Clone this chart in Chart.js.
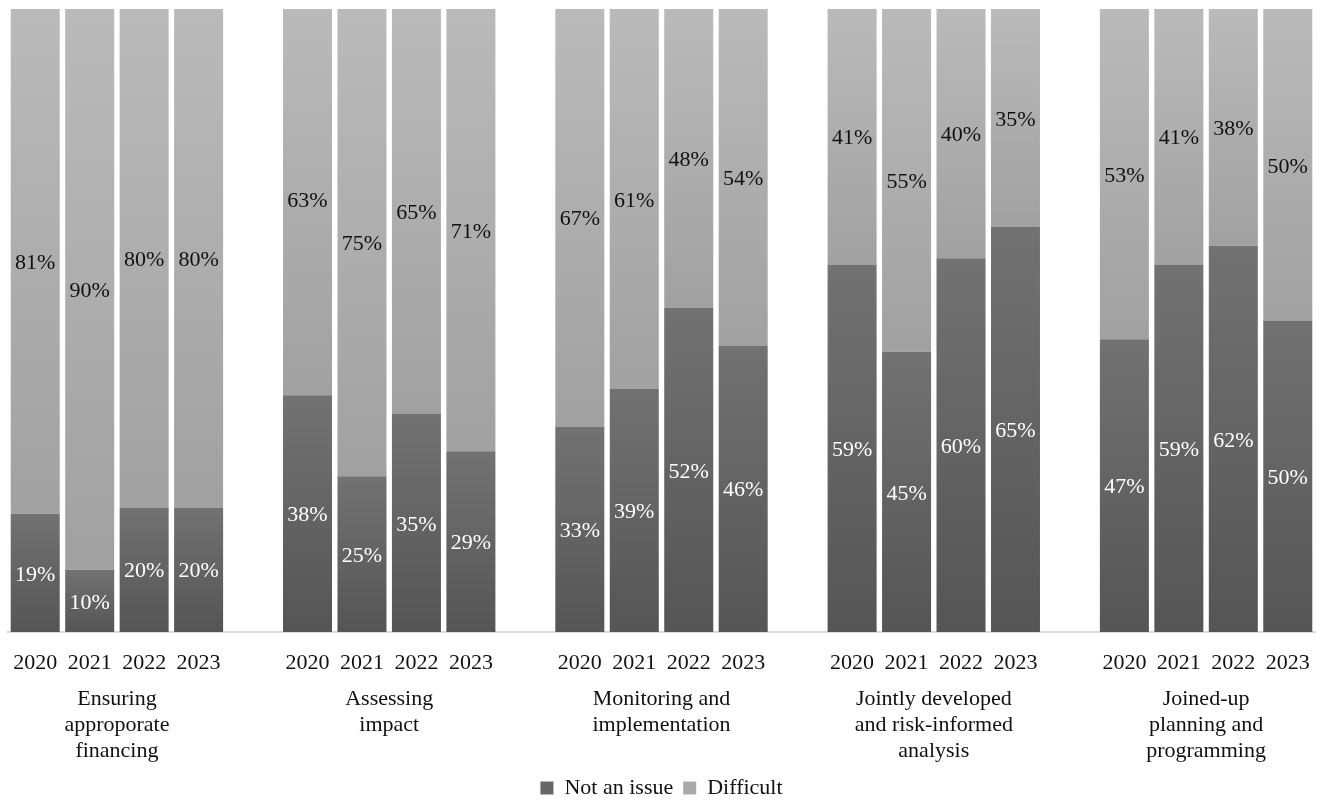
<!DOCTYPE html>
<html>
<head>
<meta charset="utf-8">
<script src="https://cdn.jsdelivr.net/npm/chart.js@4/dist/chart.umd.min.js"></script>
<style>
  html, body { margin: 0; padding: 0; background: #fff; overflow: hidden; }
  #wrap { width: 1322px; height: 800px; }
</style>
</head>
<body>
<div id="wrap"><canvas id="canvas"></canvas></div>
<script>
// values
const years = ['2020', '2021', '2022', '2023'];
const groupNames = [
    ['Ensuring', 'approporate', 'financing'],
    ['Assessing', 'impact'],
    ['Monitoring and', 'implementation'],
    ['Jointly developed', 'and risk-informed', 'analysis'],
    ['Joined-up', 'planning and', 'programming']
];
const notAnIssue = [19, 10, 20, 20, 38, 25, 35, 29, 33, 39, 52, 46, 59, 45, 60, 65, 47, 59, 62, 50];
const difficult = [81, 90, 80, 80, 63, 75, 65, 71, 67, 61, 48, 54, 41, 55, 40, 35, 53, 41, 38, 50];

const FONT = 'Liberation Serif';
const FONT_SIZE = 22;

//each group gets 4 bars and an empty slot between groups
let labels = [];
let darkData = [];
let lightData = [];
groupNames.forEach((g, gi) => {
    years.forEach((y, yi) => {
        labels.push(y);
        darkData.push(notAnIssue[gi * 4 + yi]);
        lightData.push(difficult[gi * 4 + yi]);
    });
    if (gi < groupNames.length - 1) {
        labels.push('');
        darkData.push(null);
        lightData.push(null);
    }
});

//vertical gradient over each segment, like the original fill
function segmentFill(top, bottom) {
    return function (context) {
        const chart = context.chart;
        const yScale = chart.scales.y;
        if (!chart.chartArea || !yScale || context.type !== 'data') return top;
        const i = context.dataIndex;
        const d = darkData[i] || 0;
        const from = context.datasetIndex === 0 ? 0 : d;
        const to = context.datasetIndex === 0 ? d : d + (lightData[i] || 0);
        const y0 = yScale.getPixelForValue(to);
        const y1 = yScale.getPixelForValue(from);
        if (!isFinite(y0) || !isFinite(y1) || y0 === y1) return top;
        const grad = chart.ctx.createLinearGradient(0, y0, 0, y1);
        grad.addColorStop(0, top);
        grad.addColorStop(1, bottom);
        return grad;
    };
}

const legendColors = ['#666666', '#aaaaaa'];

//writes the percentages in the middle of each segment
const segmentLabels = {
    id: 'segmentLabels',
    afterDatasetsDraw(chart) {
        const ctx = chart.ctx;
        ctx.save();
        ctx.font = FONT_SIZE + 'px "' + FONT + '"';
        ctx.textAlign = 'center';
        ctx.textBaseline = 'middle';
        chart.data.datasets.forEach((ds, di) => {
            const meta = chart.getDatasetMeta(di);
            ctx.fillStyle = di === 0 ? '#ffffff' : '#111111';
            meta.data.forEach((bar, i) => {
                if (ds.data[i] == null) return;
                const p = bar.getProps(['x', 'y', 'base'], true);
                ctx.fillText(ds.data[i] + '%', p.x, (p.y + p.base) / 2 + 2);
            });
        });
        ctx.restore();
    }
};

//group names under the years
const groupLabels = {
    id: 'groupLabels',
    afterDraw(chart) {
        const ctx = chart.ctx;
        const x = chart.scales.x;
        const bottom = chart.chartArea.bottom;
        ctx.save();
        ctx.font = FONT_SIZE + 'px "' + FONT + '"';
        ctx.fillStyle = '#111111';
        ctx.textAlign = 'center';
        ctx.textBaseline = 'middle';
        groupNames.forEach((lines, gi) => {
            const cx = (x.getPixelForValue(gi * 5 + 1) + x.getPixelForValue(gi * 5 + 2)) / 2;
            lines.forEach((line, li) => {
                ctx.fillText(line, cx, bottom + 67 + li * 26);
            });
        });
        ctx.restore();
    }
};

new Chart(document.getElementById('canvas'), {
    type: 'bar',
    data: {
        labels: labels,
        datasets: [{
            label: 'Not an issue',
            data: darkData,
            backgroundColor: segmentFill('#727272', '#555555'),
            borderWidth: 0
        }, {
            label: 'Difficult',
            data: lightData,
            backgroundColor: segmentFill('#bababa', '#a1a1a1'),
            borderWidth: 0
        }]
    },
    options: {
        responsive: true,
        maintainAspectRatio: false,
        animation: false,
        datasets: {
            bar: { barPercentage: 0.9, categoryPercentage: 1.0 }
        },
        layout: { padding: { top: 9, left: 8, right: 7, bottom: -9 } },
        scales: {
            x: {
                stacked: true,
                grid: { display: false },
                border: { display: true, color: '#d9d9d9', width: 2 },
                ticks: {
                    autoSkip: false,
                    maxRotation: 0,
                    padding: 10,
                    color: '#111111',
                    font: { family: FONT, size: FONT_SIZE }
                },
                afterFit(scale) { scale.height = 135; }
            },
            y: {
                stacked: true,
                display: false,
                min: 0,
                max: 100
            }
        },
        plugins: {
            legend: {
                position: 'bottom',
                labels: {
                    boxWidth: 13,
                    boxHeight: 13,
                    padding: 10,
                    color: '#111111',
                    font: { family: FONT, size: FONT_SIZE },
                    generateLabels(chart) {
                        return Chart.defaults.plugins.legend.labels.generateLabels(chart).map((l, i) => {
                            l.fillStyle = legendColors[i];
                            l.strokeStyle = legendColors[i];
                            l.lineWidth = 0;
                            return l;
                        });
                    }
                }
            },
            tooltip: { enabled: false }
        }
    },
    plugins: [segmentLabels, groupLabels]
});
</script>
</body>
</html>
